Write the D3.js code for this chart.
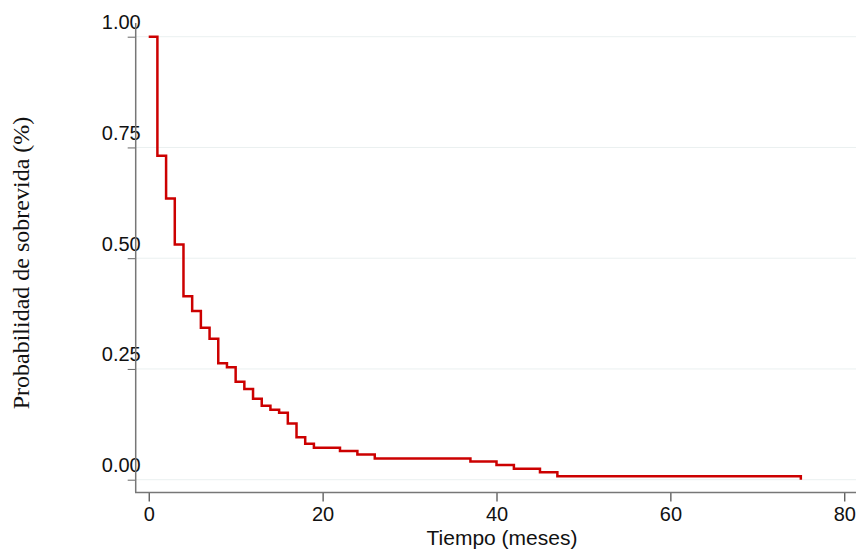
<!DOCTYPE html>
<html>
<head>
<meta charset="utf-8">
<script src="https://cdn.jsdelivr.net/npm/d3@7"></script>
<style>
  body { margin: 0; background: #fff; }
</style>
</head>
<body>
<script>
'use strict'

var w = 856;
var h = 554;

// tiempos (meses) donde cae la curva, y la supervivencia despues de cada caida
var times = [0, 1, 2, 3, 4, 5, 6, 7, 8, 9, 10, 11, 12, 13, 14, 15, 16, 17, 18, 19,
  22, 24, 26, 37, 40, 42, 45, 47, 75];
var survival = [1.00, 0.731, 0.635, 0.531, 0.414, 0.381, 0.343, 0.318, 0.263, 0.254,
  0.221, 0.205, 0.183, 0.167, 0.158, 0.151, 0.127, 0.096, 0.081, 0.072,
  0.065, 0.057, 0.048, 0.041, 0.033, 0.025, 0.017, 0.008, 0.0];
var xTicks = [0, 20, 40, 60, 80];
var yTicks = [0, 0.25, 0.5, 0.75, 1];

var data = times.map(function(t, i) { return { t: t, s: survival[i] }; });

var x = d3.scaleLinear().domain([0, 80]).range([148.7, 844.3]);
var y = d3.scaleLinear().domain([0, 1]).range([479.7, 36.7]);

var svg = d3.select("body")
  .append("svg")
  .attr("width", w)
  .attr("height", h);

// gridlines
svg.append("g")
  .selectAll("line")
  .data(yTicks)
  .enter()
  .append("line")
  .attr("x1", 136)
  .attr("x2", w)
  .attr("y1", function(d) { return y(d); })
  .attr("y2", function(d) { return y(d); })
  .attr("stroke", "#eaf0f0")
  .attr("stroke-width", 1);

// y axis
var yAxis = svg.append("g")
  .attr("transform", "translate(135.7,0)")
  .call(d3.axisLeft(y).tickValues(yTicks).tickSize(8).tickFormat(d3.format(".2f")));
yAxis.select(".domain").remove();
yAxis.selectAll(".tick line").attr("stroke", "#666");
yAxis.selectAll(".tick text")
  .attr("x", 5)
  .attr("dy", "-0.4em")
  .style("font-family", "Arial, 'Liberation Sans', sans-serif")
  .style("font-size", "20px")
  .attr("fill", "#111");
svg.append("line")
  .attr("x1", 135.7).attr("x2", 135.7)
  .attr("y1", 23).attr("y2", 492.5)
  .attr("stroke", "#777").attr("stroke-width", 1.5);

// x axis
var xAxis = svg.append("g")
  .attr("transform", "translate(0,492.5)")
  .call(d3.axisBottom(x).tickValues(xTicks).tickSize(9).tickFormat(d3.format("d")));
xAxis.select(".domain").remove();
xAxis.selectAll(".tick line").attr("stroke", "#222");
xAxis.selectAll(".tick text")
  .attr("y", 14)
  .style("font-family", "Arial, 'Liberation Sans', sans-serif")
  .style("font-size", "20px")
  .attr("fill", "#111");
svg.append("line")
  .attr("x1", 135).attr("x2", w)
  .attr("y1", 492.5).attr("y2", 492.5)
  .attr("stroke", "#777").attr("stroke-width", 1.5);

// step curve
var line = d3.line()
  .x(function(d) { return x(d.t); })
  .y(function(d) { return y(d.s); })
  .curve(d3.curveStepAfter);

svg.append("path")
  .datum(data)
  .attr("d", line)
  .attr("fill", "none")
  .attr("stroke", "#cc0000")
  .attr("stroke-width", 2.5);

// titles
svg.append("text")
  .attr("x", 502)
  .attr("y", 545)
  .attr("text-anchor", "middle")
  .style("font-family", "Arial, 'Liberation Sans', sans-serif")
  .style("font-size", "21px")
  .attr("fill", "#111")
  .text("Tiempo (meses)");

svg.append("text")
  .attr("transform", "translate(29,263) rotate(-90)")
  .attr("text-anchor", "middle")
  .style("font-family", "'Times New Roman', 'Liberation Serif', serif")
  .style("font-size", "24px")
  .attr("fill", "#111")
  .text("Probabilidad de sobrevida (%)");
</script>
</body>
</html>
